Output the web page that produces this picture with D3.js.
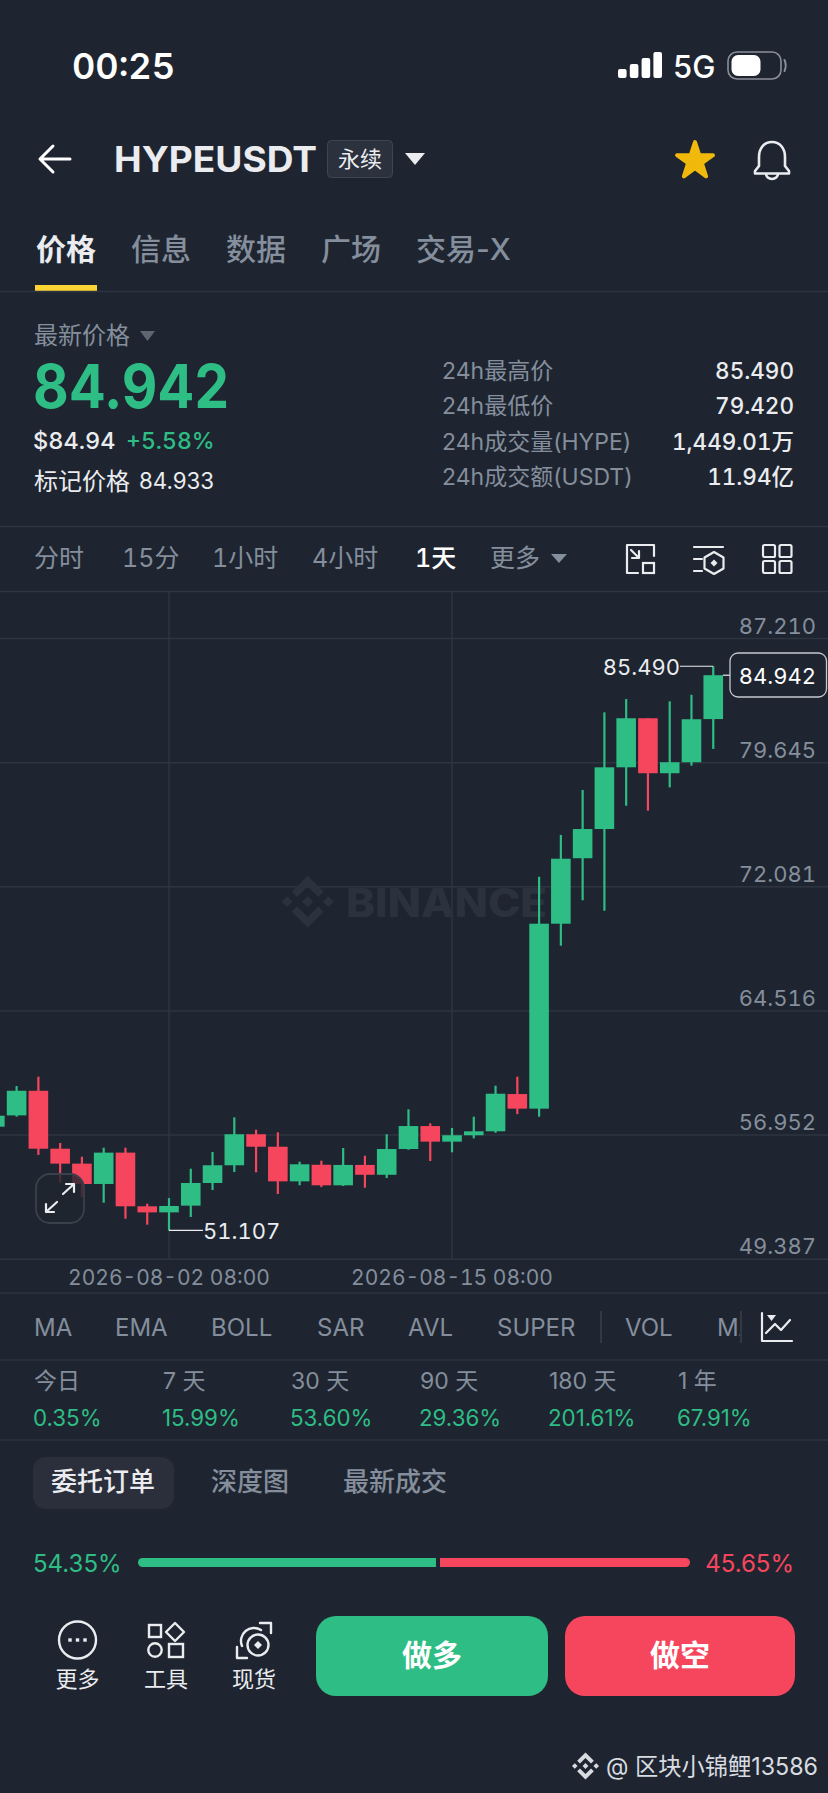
<!DOCTYPE html>
<html><head><meta charset="utf-8">
<script src="https://cdn.jsdelivr.net/npm/d3@7/dist/d3.min.js"></script>
<style>
html,body{margin:0;padding:0;background:#1e2530;}
svg{display:block;}
text{font-family:Inter,"Noto Sans CJK SC",sans-serif;}
.tn,.yaxis text{font-feature-settings:"tnum";}
</style></head><body>
<svg id="c" width="828" height="1793"></svg>
<script>
// --- data ---
const dates = ["07-25","07-26","07-27","07-28","07-29","07-30","07-31","08-01","08-02","08-03","08-04","08-05","08-06","08-07","08-08","08-09","08-10","08-11","08-12","08-13","08-14","08-15","08-16","08-17","08-18","08-19","08-20","08-21","08-22","08-23","08-24","08-25","08-26","08-27"];
const opens  = [57.43,58.12,59.62,56.09,55.18,53.94,55.85,52.58,52.21,52.62,54.00,55.08,56.97,56.21,54.10,55.11,53.86,55.10,54.50,56.07,57.47,56.52,56.91,57.15,59.42,58.53,69.80,73.79,75.57,79.33,82.32,78.97,79.64,82.27];
const closes = [58.10,59.62,56.09,55.18,53.94,55.85,52.58,52.21,52.60,54.00,55.08,56.97,56.21,54.10,55.14,53.86,55.10,54.50,56.07,57.47,56.52,56.91,57.15,59.44,58.53,69.80,73.76,75.57,79.33,82.32,78.97,79.64,82.26,84.942];
const highs  = [58.10,59.91,60.48,56.44,55.60,56.15,56.15,52.74,53.08,54.87,55.89,58.00,57.25,57.09,55.30,55.36,56.13,55.66,56.97,58.49,57.64,57.35,58.04,59.93,60.48,72.66,75.21,77.95,82.68,83.49,82.32,83.35,83.75,85.49];
const lows   = [57.43,58.04,55.71,54.02,53.15,52.80,51.82,51.46,51.107,51.93,53.57,54.67,54.65,53.33,53.86,53.75,53.82,53.71,54.30,56.03,55.34,55.87,56.72,57.06,58.20,58.04,68.46,71.23,70.59,76.99,76.69,78.11,79.43,80.45];
const priceTicks = [87.210,79.645,72.081,64.516,56.952,49.387];
const timeTicks = ["08-02","08-15"];
const timeLabels = {"08-02":"2026-08-02 08:00","08-15":"2026-08-15 08:00"};
const lastPrice = 84.942, periodHigh = 85.490, periodLow = 51.107;
const timeframes = ["分时","15分","1小时","4小时","1天","更多"];
const indicators = ["MA","EMA","BOLL","SAR","AVL","SUPER","VOL","MACD"];
const periods = ["今日","7 天","30 天","90 天","180 天","1 年"];
const periodChanges = ["0.35%","15.99%","53.60%","29.36%","201.61%","67.91%"];
const stats = ["24h最高价","24h最低价","24h成交量(HYPE)","24h成交额(USDT)"];
const statValues = ["85.490","79.420","1,449.01万","11.94亿"];
const longShort = [54.35,45.65];

const GREEN="#2ebd85",RED="#f6465d",GRAY="#848e9c",WHITE="#ffffff",LIGHT="#eaecef",GRID="#2e3440",BG="#1e2530";
const svg=d3.select("#c");
svg.append("rect").attr("width",828).attr("height",1793).attr("fill",BG);
function T(x,y,s,size,fill,o={}){
  const t=svg.append("text").attr("x",x).attr("y",y).attr("font-size",size).attr("fill",fill).text(s);
  if(o.w)t.attr("font-weight",o.w);
  if(o.a)t.attr("text-anchor",o.a);
  if(o.ls)t.attr("letter-spacing",o.ls);
  if(o.tn)t.attr("class","tn");
  if(o.len)t.attr("textLength",o.len).attr("lengthAdjust","spacingAndGlyphs");
  return t;
}
function hline(y,c=GRID){svg.append("line").attr("x1",0).attr("x2",828).attr("y1",y).attr("y2",y).attr("stroke",c).attr("stroke-width",1.5);}
function P(d,o={}){return svg.append("path").attr("d",d).attr("fill",o.fill||"none").attr("stroke",o.stroke||"none").attr("stroke-width",o.sw||2.4).attr("stroke-linecap","round").attr("stroke-linejoin","round");}
function logo(cx,cy,k,fill){
  const g=svg.append("g").attr("transform",`translate(${cx},${cy}) scale(${k})`).attr("fill",fill);
  g.append("path").attr("d","M0 -26L16 -10L10.6 -4.6L0 -15.2L-10.6 -4.6L-16 -10Z");
  g.append("path").attr("d","M0 26L16 10L10.6 4.6L0 15.2L-10.6 4.6L-16 10Z");
  g.append("path").attr("d","M-26 0L-20.6 -5.4L-15.2 0L-20.6 5.4Z");
  g.append("path").attr("d","M26 0L20.6 -5.4L15.2 0L20.6 5.4Z");
  g.append("path").attr("d","M0 -5.6L5.6 0L0 5.6L-5.6 0Z");
}

// status bar
T(72,79,"00:25",36,WHITE,{w:600,tn:1,len:103});
const barX=d3.scaleBand().domain([0,1,2,3]).range([618,662]).paddingInner(0.27);
[9,14,20,26].forEach((h,i)=>svg.append("rect").attr("x",barX(i)).attr("y",78-h).attr("width",barX.bandwidth()).attr("height",h).attr("rx",2).attr("fill",WHITE));
T(673,78,"5G",31,WHITE,{w:500});
svg.append("rect").attr("x",728).attr("y",52).attr("width",53).attr("height",27).attr("rx",9).attr("fill","none").attr("stroke","#8a8f98").attr("stroke-width",1.6);
svg.append("rect").attr("x",731.5).attr("y",55).attr("width",29).attr("height",21).attr("rx",6.5).attr("fill",WHITE);
P("M784.5 60 Q787 65.5 784.5 71",{stroke:"#8a8f98",sw:2});

// header
P("M70 159H41M53 146L40 159L53 172",{stroke:WHITE,sw:3});
T(114,172,"HYPEUSDT",35,LIGHT,{w:700,len:203});
svg.append("rect").attr("x",327.5).attr("y",140.5).attr("width",65).attr("height",37).attr("rx",4).attr("fill","#2b313d").attr("stroke","#3f4653").attr("stroke-width",1);
T(360,167,"永续",22,LIGHT,{a:"middle"});
P("M405 153H425L415 165Z",{fill:LIGHT});
svg.append("path").attr("d",d3.symbol(d3.symbolStar,400)()).attr("transform","translate(695,161)").attr("fill","#f0b90b").attr("stroke","#f0b90b").attr("stroke-width",4).attr("stroke-linejoin","round");
P("M772 142c-8.500 0-13 7-13 15v9l-4 5v2.500h34v-2.500l-4-5v-9c0-8-4.500-15-13-15zM766 174a6 5 0 0 0 12 0",{stroke:LIGHT,sw:2.6});

// tabs
[["价格",36,LIGHT],["信息",131,GRAY],["数据",226,GRAY],["广场",321,GRAY],["交易-X",416,GRAY]].forEach(([s,x,c],i)=>T(x,260,s,30,c,{w:i==0?600:500}));
svg.append("rect").attr("x",35).attr("y",285).attr("width",62).attr("height",6).attr("fill","#fcd535");
hline(291.5);

// price block
T(34,344,"最新价格",24,GRAY);
P("M140 331H155L147.5 341Z",{fill:"#5e6673"});
T(33,408,"84.942",60,GREEN,{w:700,len:196});
T(33,449,"$84.94",23.5,LIGHT,{w:500,tn:1});
T(126,449,"+5.58%",23,GREEN,{w:500,tn:1});
T(34,490,"标记价格",24,LIGHT);
T(139,489,"84.933",22.3,LIGHT);
stats.forEach((s,i)=>{const yy=[379,414,450,485][i];
  T(442,yy,s,23,GRAY);
  T(794,yy,statValues[i],22.5,LIGHT,{a:"end",w:500,tn:1});});
hline(526.5);

// timeframes
[[34],[122],[212],[312],[415],[490]].forEach(([xx],i)=>T(xx,567,timeframes[i],25,i==4?WHITE:GRAY,{w:i==4?500:400,tn:1}));
P("M551 554H567L559 563Z",{fill:GRAY});
P("M654 556V545H627V573H638M631 550L639 558M639 551V558H632",{stroke:LIGHT,sw:2.2});
svg.append("rect").attr("x",643).attr("y",563).attr("width",11).attr("height",10).attr("fill","none").attr("stroke",LIGHT).attr("stroke-width",2.2);
P("M694 547H723M694 559H702M694 571H702M714 552L723.500 557.500V568.500L714 574L704.500 568.500V557.500Z",{stroke:LIGHT,sw:2.2});
P("M714 559.500L717.500 563L714 566.500L710.500 563Z",{fill:LIGHT});
[[763,545],[779.500,545],[763,561],[779.500,561]].forEach(([xx,yy])=>svg.append("rect").attr("x",xx).attr("y",yy).attr("width",12).attr("height",12).attr("rx",1.5).attr("fill","none").attr("stroke",LIGHT).attr("stroke-width",2.2));
hline(591.5);

// chart scales
const y=d3.scaleLinear().domain([49.387,87.21]).range([1258.7,638]);
const STEP=21.77, C0=169, idx0=dates.indexOf("08-02");
const x=d3.scaleBand().domain(dates).range([C0-idx0*STEP-STEP/2, C0+(dates.length-1-idx0)*STEP+STEP/2]).paddingInner(0.1).paddingOuter(0.05);
const cx=d=>x(d)+x.bandwidth()/2;

// gridlines + price axis
const yAxis=d3.axisRight(y).tickValues(priceTicks).tickSize(828).tickFormat(d3.format(".3f"));
const gy=svg.append("g").attr("class","yaxis").call(yAxis);
gy.select(".domain").remove();
gy.selectAll("line").attr("stroke",GRID).attr("stroke-width",1.5);
gy.selectAll("text").attr("x",816).attr("dy",-5).attr("text-anchor","end").attr("font-size",22).attr("fill",GRAY).attr("font-family",'Inter,"Noto Sans CJK SC",sans-serif');
// time axis
const xAxis=d3.axisBottom(x).tickValues(timeTicks).tickSize(-(1258.7-591)).tickFormat(d=>timeLabels[d]).tickPadding(0);
const gx=svg.append("g").attr("class","yaxis").attr("transform","translate(0,1258.7)").call(xAxis);
gx.select(".domain").remove();
gx.selectAll("line").attr("stroke",GRID).attr("stroke-width",1.5);
gx.selectAll("text").attr("y",26).attr("dy",0).attr("font-size",21).attr("fill",GRAY).attr("text-anchor","middle").attr("font-family",'Inter,"Noto Sans CJK SC",sans-serif');

// watermark
T(346,917,"BINANCE",40,"#2b323d",{w:800,len:201});
logo(307.7,901.7,1,"#2b323d");

// candles
const candles=dates.map((d,i)=>({d,o:opens[i],c:closes[i],h:highs[i],l:lows[i]}));
const col=d=>d.c>=d.o?GREEN:RED;
const gc=svg.append("g");
gc.selectAll(".wick").data(candles).join("line").attr("class","wick")
  .attr("x1",d=>cx(d.d)).attr("x2",d=>cx(d.d)).attr("y1",d=>y(d.h)).attr("y2",d=>y(d.l)).attr("stroke",col).attr("stroke-width",2.2);
gc.selectAll(".body").data(candles).join("rect").attr("class","body")
  .attr("x",d=>x(d.d)).attr("width",x.bandwidth())
  .attr("y",d=>y(Math.max(d.o,d.c))).attr("height",d=>Math.max(1,Math.abs(y(d.o)-y(d.c)))).attr("fill",col);

// extreme labels
const hx=cx("08-27"), lx=cx("08-02");
svg.append("line").attr("x1",680).attr("x2",hx).attr("y1",y(periodHigh)).attr("y2",y(periodHigh)).attr("stroke",LIGHT).attr("stroke-width",1.2);
T(680,675,d3.format(".3f")(periodHigh),22,LIGHT,{a:"end",tn:1});
svg.append("line").attr("x1",lx).attr("x2",203).attr("y1",y(periodLow)).attr("y2",y(periodLow)).attr("stroke",LIGHT).attr("stroke-width",1.2);
T(203,1239,d3.format(".3f")(periodLow),22,LIGHT,{tn:1});
svg.append("line").attr("x1",723).attr("x2",730).attr("y1",y(lastPrice)).attr("y2",y(lastPrice)).attr("stroke",LIGHT).attr("stroke-width",1.2);
svg.append("rect").attr("x",730).attr("y",653).attr("width",96.5).attr("height",44).attr("rx",8).attr("fill",BG).attr("stroke","#c4c8cf").attr("stroke-width",1.3);
T(816,684,d3.format(".3f")(lastPrice),22,WHITE,{a:"end",tn:1});

// expand button
svg.append("rect").attr("x",36).attr("y",1174).attr("width",48).attr("height",49).attr("rx",14).attr("fill",BG).attr("fill-opacity",.8).attr("stroke","#3a404c").attr("stroke-width",1.8);
P("M63 1194L74 1184M66 1184H74V1192M57 1202L46 1212M46 1204V1212H54",{stroke:LIGHT,sw:2.2});

// bottom of chart
hline(1293);
const indX=[34,115,211,317,408,497,625,717];
svg.append("clipPath").attr("id","ic").append("rect").attr("x",0).attr("y",1300).attr("width",740).attr("height",50);
const gi=svg.append("g").attr("clip-path","url(#ic)");
gi.selectAll("text").data(indicators).join("text").attr("x",(d,i)=>indX[i]).attr("y",1336).attr("font-size",24).attr("fill",GRAY).text(d=>d);
svg.append("line").attr("x1",601).attr("x2",601).attr("y1",1311).attr("y2",1343).attr("stroke","#3a404c").attr("stroke-width",1.5);
svg.append("line").attr("x1",741).attr("x2",741).attr("y1",1311).attr("y2",1343).attr("stroke","#3a404c").attr("stroke-width",1.5);
P("M762 1313V1341H792M766 1333L775 1324L781 1330L790 1320",{stroke:LIGHT,sw:2.2});
P("M767 1315H776L771.5 1321Z",{fill:LIGHT});
hline(1360);
const perX=[34,163,291,420,549,678];
periods.forEach((p,i)=>{T(perX[i],1389,p,23,GRAY);T(perX[i]-1,1426,periodChanges[i],22.3,GREEN);});
hline(1440);
svg.append("rect").attr("x",33).attr("y",1457).attr("width",141).attr("height",52).attr("rx",13).attr("fill","#2a2f3b");
T(51,1491,"委托订单",26,LIGHT,{w:500});
T(211,1491,"深度图",26,GRAY,{w:500});
T(343,1491,"最新成交",26,GRAY,{w:500});

// long / short ratio
const bar=d3.scaleLinear().domain([0,100]).range([138,690]);
T(33,1572,longShort[0].toFixed(2)+"%",24,GREEN);
T(794,1572,longShort[1].toFixed(2)+"%",24,RED,{a:"end"});
svg.append("path").attr("d",`M${bar(longShort[0])-2} 1558H142.5a4.5 4.5 0 0 0 0 9H${bar(longShort[0])-2}Z`).attr("fill",GREEN);
svg.append("path").attr("d",`M${bar(longShort[0])+2} 1558H685.5a4.5 4.5 0 0 1 0 9H${bar(longShort[0])+2}Z`).attr("fill",RED);

// bottom bar
svg.append("circle").attr("cx",77.5).attr("cy",1640).attr("r",18.5).attr("fill","none").attr("stroke",LIGHT).attr("stroke-width",2.4);
[70,77.5,85].forEach(a=>svg.append("rect").attr("x",a-1.7).attr("y",1638.300).attr("width",3.4).attr("height",3.4).attr("fill",LIGHT));
T(77.5,1687,"更多",22,LIGHT,{a:"middle"});
svg.append("rect").attr("x",149).attr("y",1625).attr("width",12).attr("height",12).attr("fill","none").attr("stroke",LIGHT).attr("stroke-width",2.4);
P("M175 1623L184 1632L175 1641L166 1632Z",{stroke:LIGHT});
svg.append("circle").attr("cx",155).attr("cy",1650).attr("r",6.700).attr("fill","none").attr("stroke",LIGHT).attr("stroke-width",2.4);
svg.append("rect").attr("x",169).attr("y",1644).attr("width",14).attr("height",13).attr("fill","none").attr("stroke",LIGHT).attr("stroke-width",2.4);
T(166,1687,"工具",22,LIGHT,{a:"middle"});
P("M260 1623H271V1633M237 1647V1658H247M242 1646A13 13 0 0 1 261 1630",{stroke:LIGHT});
svg.append("circle").attr("cx",258).attr("cy",1645).attr("r",10.5).attr("fill","none").attr("stroke",LIGHT).attr("stroke-width",2.4);
P("M258 1641L262 1645L258 1649L254 1645Z",{fill:LIGHT});
T(254,1687,"现货",22,LIGHT,{a:"middle"});
svg.append("rect").attr("x",316).attr("y",1616).attr("width",232).attr("height",80).attr("rx",20).attr("fill",GREEN);
svg.append("rect").attr("x",565).attr("y",1616).attr("width",230).attr("height",80).attr("rx",20).attr("fill",RED);
T(432,1666,"做多",30,WHITE,{a:"middle",w:700});
T(680,1666,"做空",30,WHITE,{a:"middle",w:700});

// watermark bottom
logo(585.5,1766,.52,"#d8dbe0");
T(606,1775,"@ 区块小锦鲤13586",24,"#d8dbe0",{len:212});
</script>
</body></html>
